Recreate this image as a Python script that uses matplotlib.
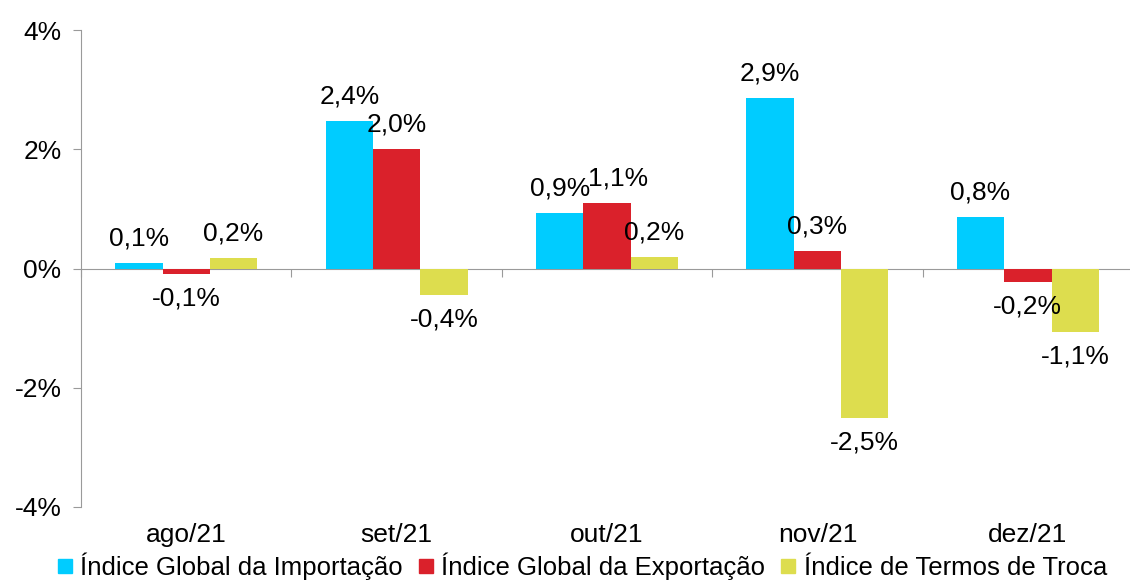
import numpy as np
import matplotlib
matplotlib.use('Agg')
import matplotlib.pyplot as plt
from matplotlib.lines import Line2D

plt.rcParams['font.family'] = ['Liberation Sans', 'DejaVu Sans']

meses = ['ago/21', 'set/21', 'out/21', 'nov/21', 'dez/21']
importacao = [0.10, 2.47, 0.94, 2.87, 0.87]
exportacao = [-0.09, 2.00, 1.10, 0.29, -0.22]
termos_troca = [0.18, -0.45, 0.20, -2.50, -1.07]
rotulos_imp = ['0,1%', '2,4%', '0,9%', '2,9%', '0,8%']
rotulos_exp = ['-0,1%', '2,0%', '1,1%', '0,3%', '-0,2%']
rotulos_tt = ['0,2%', '-0,4%', '0,2%', '-2,5%', '-1,1%']
series = ['Índice Global da Importação', 'Índice Global da Exportação', 'Índice de Termos de Troca']
cores = ['#00CCFF', '#DA212B', '#DDDD4E']

fig = plt.figure(figsize=(11.3, 5.82), dpi=100)
ax = fig.add_axes([0.0717, 0.129, 0.931, 0.819])

x = np.arange(len(meses))
w = 0.225
fs = 19
# small horizontal nudges (points) so neighbouring labels don't collide
desloc = {(1, 2): 8}
dados = [(importacao, rotulos_imp), (exportacao, rotulos_exp), (termos_troca, rotulos_tt)]
for i, (vals, rots) in enumerate(dados):
    pos = x + (i - 1) * w
    ax.bar(pos, vals, width=w, color=cores[i], label=series[i], zorder=2)
    for j, (px, v, r) in enumerate(zip(pos, vals, rots)):
        dx = desloc.get((i, j), 0)
        if v >= 0:
            ax.annotate(r, (px, v), xytext=(dx, 9), textcoords='offset points',
                        ha='center', va='bottom', fontsize=fs)
        else:
            ax.annotate(r, (px, v), xytext=(dx, -9), textcoords='offset points',
                        ha='center', va='top', fontsize=fs)

ax.set_xlim(-0.5, len(meses) - 0.5)
ax.set_ylim(-4, 4)
ax.set_yticks([-4, -2, 0, 2, 4])
ax.set_yticklabels(['-4%', '-2%', '0%', '2%', '4%'], fontsize=fs)

for s in ['top', 'right']:
    ax.spines[s].set_visible(False)
ax.spines['left'].set_color('#9A9A9A')
ax.spines['bottom'].set_position(('data', 0))
ax.spines['bottom'].set_color('#9A9A9A')
ax.spines['bottom'].set_zorder(1)
ax.tick_params(axis='y', direction='out', length=6, color='#9A9A9A', pad=8)

ax.set_xticks(np.arange(len(meses) + 1) - 0.5)
ax.set_xticklabels([])
ax.tick_params(axis='x', direction='out', length=6, color='#9A9A9A')

for xi, m in zip(x, meses):
    ax.text(xi, -0.058, m, transform=ax.get_xaxis_transform(),
            ha='center', va='center', fontsize=fs)

handles = [Line2D([], [], marker='s', linestyle='none', markersize=10,
                  markerfacecolor=c, markeredgecolor=c) for c in cores]
fig.legend(handles, series, loc='center', bbox_to_anchor=(0.515, 0.027), ncol=3,
           frameon=False, fontsize=18.5, handlelength=0.6, handletextpad=0.3,
           columnspacing=0.6, borderaxespad=0)

fig.savefig('out.png', dpi=100)
